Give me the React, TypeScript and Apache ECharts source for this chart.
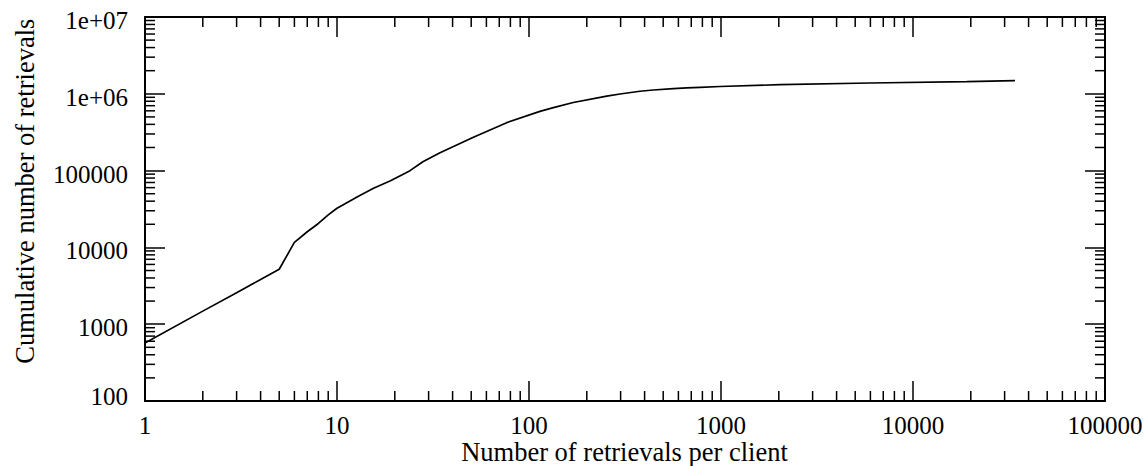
import React, { useEffect, useRef } from "react";
import * as echarts from "echarts";

const X_MIN = 1;
const X_MAX = 100000;
const Y_MIN = 100;
const Y_MAX = 10000000;

const clientRetrievals = [
  1, 2, 3, 4, 5, 6, 7, 8, 9, 10, 13, 15.5, 19, 24, 28, 34.4, 51, 76.5, 114, 134,
  170, 254, 298, 378, 444, 565, 663, 778, 988, 2030, 5970, 19040, 34000,
];
const cumulativeRetrievals = [
  570, 1480, 2560, 3830, 5200, 11600, 16000, 20500, 26500, 32300, 46700, 58800,
  73900, 99800, 130600, 171000, 270000, 421000, 590000, 660000, 771000, 935000,
  995000, 1080000, 1120000, 1170000, 1195000, 1215000, 1245000, 1314000, 1383000,
  1439000, 1483000,
];

const xMinorTicks = [2, 3, 4, 5, 6, 7, 8, 9, 20, 30, 40, 50, 60, 70, 80, 90, 200, 300, 400, 500, 600, 700, 800, 900, 2000, 3000, 4000, 5000, 6000, 7000, 8000, 9000, 20000, 30000, 40000, 50000, 60000, 70000, 80000, 90000];
const yMinorTicks = [200, 300, 400, 500, 600, 700, 800, 900, 2000, 3000, 4000, 5000, 6000, 7000, 8000, 9000, 20000, 30000, 40000, 50000, 60000, 70000, 80000, 90000, 200000, 300000, 400000, 500000, 600000, 700000, 800000, 900000, 2000000, 3000000, 4000000, 5000000, 6000000, 7000000, 8000000, 9000000];

const X_TITLE = "Number of retrievals per client";
const Y_TITLE = "Cumulative number of retrievals";

const FONT = "'Liberation Serif', 'Times New Roman', serif";

export default function App() {
  const ref = useRef<HTMLDivElement>(null);
  useEffect(() => {
    if (!ref.current) return;
    const chart = echarts.init(ref.current, null, { renderer: "svg" });
    const axisLine = { show: true, onZero: false, lineStyle: { color: "#000", width: 2 } };
    const axisTick = { show: true, inside: true, length: 20, lineStyle: { color: "#000", width: 1.5 } };
    const labelStyle = { color: "#000", fontFamily: FONT, fontSize: 25 };
    const yFmt = (v: number) => {
      const e = Math.round(Math.log10(v));
      if (e <= 2) return `{lo|${Math.round(v)}}`;
      return e >= 6 ? `{n|1e+0${e}}` : `{n|${Math.round(v)}}`;
    };
    const xFmt = (v: number) => String(Math.round(v));
    const MINOR = 10;
    chart.setOption({
      animation: false,
      backgroundColor: "#fff",
      grid: { left: 145, right: 43, top: 17, bottom: 65, containLabel: false },
      xAxis: [
        {
          type: "log", logBase: 10, min: X_MIN, max: X_MAX, splitNumber: 5, position: "bottom",
          axisLine, axisTick, splitLine: { show: false },
          axisLabel: { ...labelStyle, margin: 12, formatter: xFmt },
        },
        {
          type: "log", logBase: 10, min: X_MIN, max: X_MAX, splitNumber: 5, position: "top",
          axisLine, axisTick, splitLine: { show: false }, axisLabel: { show: false },
        },
      ],
      yAxis: [
        {
          type: "log", logBase: 10, min: Y_MIN, max: Y_MAX, splitNumber: 5, position: "left",
          axisLine, axisTick, splitLine: { show: false },
          axisLabel: {
            ...labelStyle, margin: 17, formatter: yFmt,
            rich: {
              n: { ...labelStyle, padding: [7, 0, 0, 0] },
              lo: { ...labelStyle, padding: [0, 0, 10, 0] },
            },
          },
        },
        {
          type: "log", logBase: 10, min: Y_MIN, max: Y_MAX, splitNumber: 5, position: "right",
          axisLine, axisTick, splitLine: { show: false }, axisLabel: { show: false },
        },
      ],
      graphic: [
        {
          type: "text", x: 624.5, y: 452, z: 10,
          style: { text: X_TITLE, fill: "#000", font: `26.5px ${FONT}`, align: "center", verticalAlign: "middle" },
        },
        {
          type: "text", x: 24.5, y: 191.2, rotation: Math.PI / 2, z: 10,
          style: { text: Y_TITLE, fill: "#000", font: `26.5px ${FONT}`, align: "center", verticalAlign: "middle" },
        },
      ],
      series: [
        {
          type: "line",
          xAxisIndex: 0, yAxisIndex: 0,
          data: clientRetrievals.map((x, i) => [x, cumulativeRetrievals[i]]),
          showSymbol: false, symbol: "none",
          lineStyle: { color: "#000", width: 1.7 },
          z: 5,
        },
        {
          type: "custom",
          xAxisIndex: 0, yAxisIndex: 0,
          clip: false,
          data: xMinorTicks.map((v) => [v, Y_MIN]),
          renderItem: (_p: any, api: any) => {
            const v = api.value(0);
            const b = api.coord([v, Y_MIN]);
            const t = api.coord([v, Y_MAX]);
            const style = { stroke: "#000", lineWidth: 1.5 };
            return {
              type: "group",
              children: [
                { type: "line", shape: { x1: b[0], y1: b[1], x2: b[0], y2: b[1] - MINOR }, style },
                { type: "line", shape: { x1: t[0], y1: t[1], x2: t[0], y2: t[1] + MINOR }, style },
              ],
            };
          },
        },
        {
          type: "custom",
          xAxisIndex: 0, yAxisIndex: 0,
          clip: false,
          data: yMinorTicks.map((v) => [X_MIN, v]),
          renderItem: (_p: any, api: any) => {
            const v = api.value(1);
            const l = api.coord([X_MIN, v]);
            const r = api.coord([X_MAX, v]);
            const style = { stroke: "#000", lineWidth: 1.5 };
            return {
              type: "group",
              children: [
                { type: "line", shape: { x1: l[0], y1: l[1], x2: l[0] + MINOR, y2: l[1] }, style },
                { type: "line", shape: { x1: r[0], y1: r[1], x2: r[0] - MINOR, y2: r[1] }, style },
              ],
            };
          },
        },
      ],
    });
    return () => chart.dispose();
  }, []);
  return (
    <div
      ref={ref}
      style={{ position: "fixed", left: 0, top: 0, width: 1148, height: 466, background: "#fff" }}
    />
  );
}
